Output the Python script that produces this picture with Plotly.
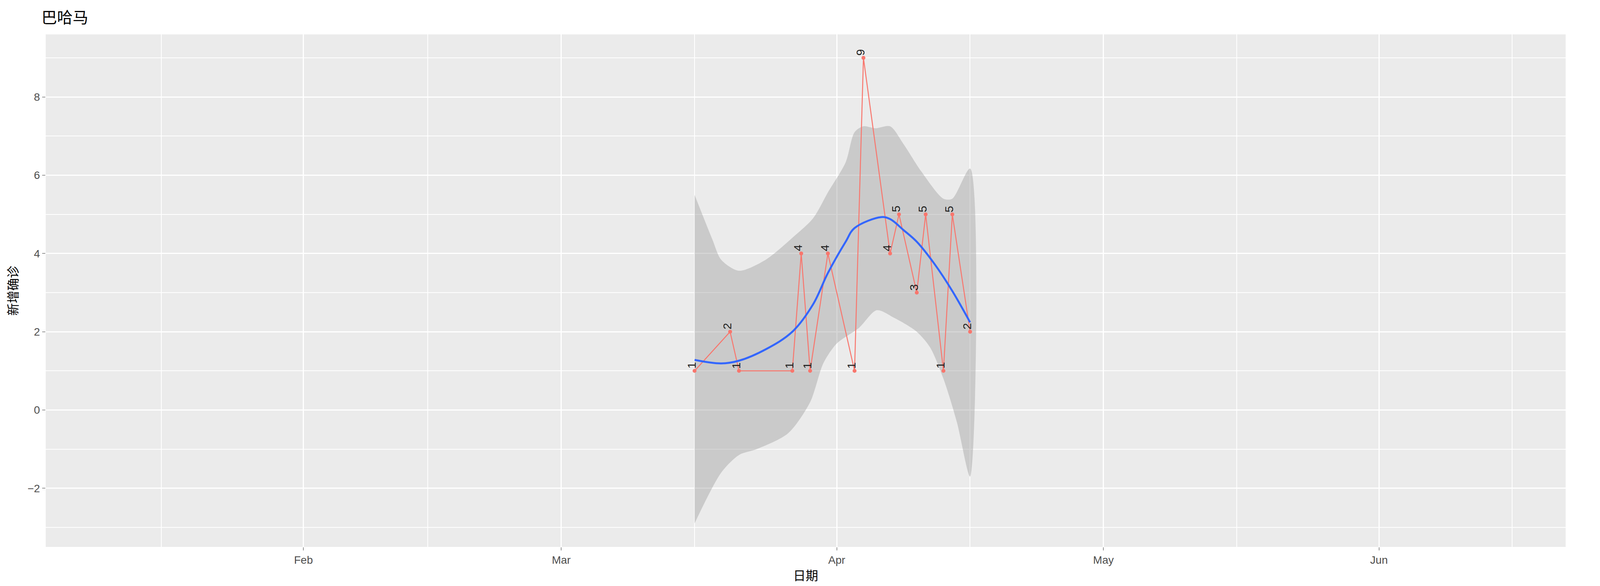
import plotly.graph_objects as go

# daily new confirmed cases
dates = ["2020-03-16", "2020-03-20", "2020-03-21", "2020-03-27", "2020-03-28", "2020-03-29",
         "2020-03-31", "2020-04-03", "2020-04-04", "2020-04-07", "2020-04-08", "2020-04-10",
         "2020-04-11", "2020-04-13", "2020-04-14", "2020-04-16"]
cases = [1, 2, 1, 1, 4, 1, 4, 1, 9, 4, 5, 3, 5, 1, 5, 2]

# loess fit and confidence band
fit_dates = ["2020-03-16", "2020-03-19", "2020-03-21", "2020-03-24", "2020-03-27", "2020-03-29 08:00",
             "2020-03-31", "2020-04-02", "2020-04-03", "2020-04-06", "2020-04-07", "2020-04-08 12:00",
             "2020-04-10", "2020-04-12", "2020-04-14", "2020-04-16"]
fit = [1.28, 1.19, 1.26, 1.55, 2.0, 2.7, 3.5, 4.3, 4.65, 4.93, 4.88, 4.6, 4.3, 3.73, 3.04, 2.24]

upper_dates = ["2020-03-16", "2020-03-18", "2020-03-19", "2020-03-21", "2020-03-24", "2020-03-27",
               "2020-03-29 08:00", "2020-03-31", "2020-04-02", "2020-04-03", "2020-04-04", "2020-04-05 08:00",
               "2020-04-07", "2020-04-08 12:00", "2020-04-10 12:00", "2020-04-13", "2020-04-14", "2020-04-16"]
upper = [5.5, 4.36, 3.84, 3.56, 3.84, 4.4, 4.9, 5.56, 6.33, 7.1, 7.25, 7.2, 7.25, 6.8, 6.1, 5.4, 5.4, 6.17]

lower_dates = ["2020-03-16", "2020-03-19", "2020-03-21", "2020-03-23", "2020-03-26 12:00", "2020-03-29",
               "2020-03-30 12:00", "2020-04-01", "2020-04-03 12:00", "2020-04-05 12:00", "2020-04-07 12:00",
               "2020-04-10", "2020-04-11 12:00", "2020-04-13", "2020-04-14 12:00", "2020-04-16"]
lower = [-2.9, -1.6, -1.15, -1.0, -0.6, 0.2, 1.2, 1.7, 2.1, 2.55, 2.35, 2.0, 1.6, 0.8, -0.3, -1.7]

fig = go.Figure()
fig.add_trace(go.Scatter(x=upper_dates + lower_dates[::-1], y=upper + lower[::-1], fill="toself",
                         fillcolor="rgba(153,153,153,0.4)", line=dict(width=0, shape="spline", smoothing=0.8),
                         mode="lines", hoverinfo="skip"))
fig.add_trace(go.Scatter(x=dates, y=cases, mode="lines+markers",
                         line=dict(color="#F8766D", width=2.5), marker=dict(color="#F8766D", size=10)))
fig.add_trace(go.Scatter(x=fit_dates, y=fit, mode="lines",
                         line=dict(color="#3366FF", width=5, shape="spline")))

for d, c in zip(dates, cases):
    fig.add_annotation(x=d, y=c, text=str(c), showarrow=False, textangle=-90,
                       xshift=-8, yshift=14, font=dict(size=30, color="#222222"))

fig.update_layout(
    autosize=True,
    margin=dict(l=109, r=80, t=80, b=108),
    paper_bgcolor="white", plot_bgcolor="#EBEBEB",
    showlegend=False,
    font=dict(family="Liberation Sans, Noto Sans CJK SC", size=28, color="#4D4D4D"),
    title=dict(text="巴哈马", x=0.024, xanchor="left", y=0.985, yanchor="top",
               font=dict(size=40, color="black")),
)
fig.update_xaxes(range=["2020-01-03", "2020-06-22"], tickvals=["2020-02-01", "2020-03-01", "2020-04-01", "2020-05-01", "2020-06-01"],
                 ticktext=["Feb", "Mar", "Apr", "May", "Jun"], gridcolor="white", gridwidth=3,
                 minor=dict(tickvals=["2020-01-16", "2020-02-15", "2020-03-16", "2020-04-16", "2020-05-16", "2020-06-16"],
                            gridcolor="white", gridwidth=1.5),
                 ticks="outside", ticklen=8, tickcolor="#333333", zeroline=False,
                 title=dict(text="日期", font=dict(size=32, color="black")))
fig.update_yaxes(range=[-3.5, 9.6], tickvals=[-2, 0, 2, 4, 6, 8], gridcolor="white", gridwidth=3,
                 minor=dict(tickvals=[-3, -1, 1, 3, 5, 7, 9], gridcolor="white", gridwidth=1.5),
                 ticks="outside", ticklen=8, tickcolor="#333333", zeroline=False,
                 title=dict(text="新增确诊", font=dict(size=32, color="black")))

fig.write_html("out.html", default_width="100%", default_height="100vh")
